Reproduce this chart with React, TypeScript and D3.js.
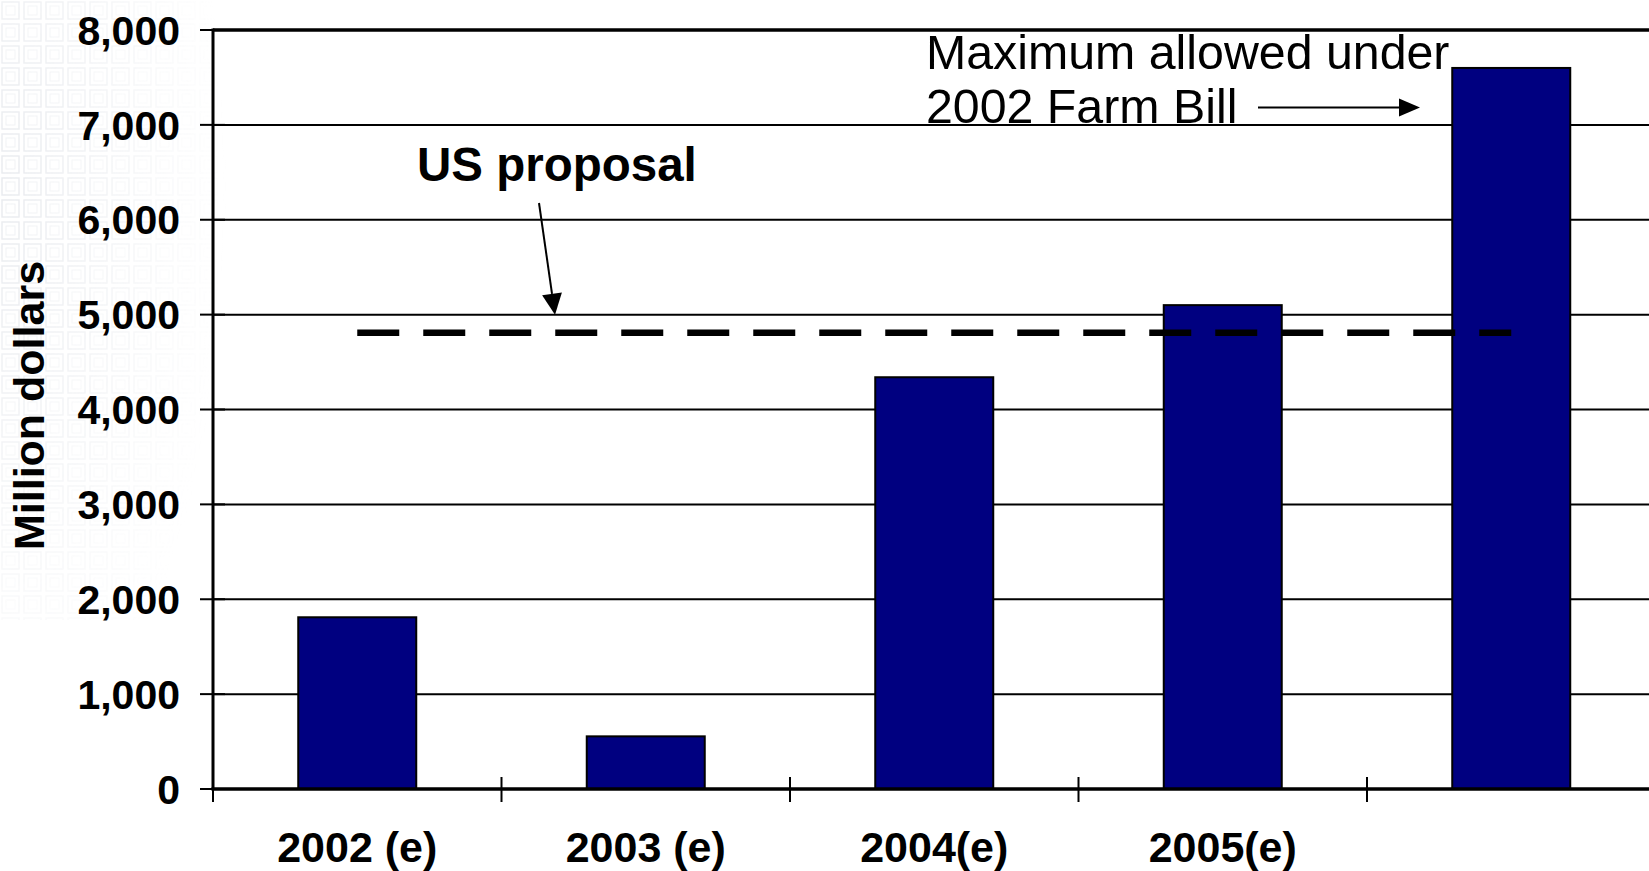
import React from "react";
import * as d3 from "d3";

const categories = ["2002 (e)", "2003 (e)", "2004(e)", "2005(e)", ""];
const values = [1810, 555, 4340, 5100, 7600];
const yTicks = [0, 1000, 2000, 3000, 4000, 5000, 6000, 7000, 8000];
const usProposal = 4810;
const yMax = 8000;
const yTitle = "Million dollars";
const proposalLabel = "US proposal";
const maxLabel = ["Maximum allowed under", "2002 Farm Bill"];

const W = 1649;
const H = 871;
const left = 213;
const top = 30;
const bottom = 789;
const step = 288.5;
const right = left + step * categories.length;
const FONT = "'Liberation Sans', Arial, Helvetica, sans-serif";

export default function App() {
  const x = d3
    .scaleBand<number>()
    .domain(d3.range(categories.length))
    .range([left, right])
    .paddingInner(0.591)
    .paddingOuter(0.2955);
  const y = d3.scaleLinear().domain([0, yMax]).range([bottom, top]);
  const bw = x.bandwidth();
  const st = x.step();
  const bandStarts = d3.range(categories.length + 1).map((i) => left + i * st);
  const center = (i: number) => (x(i) as number) + bw / 2;

  const dashX1 = center(0);
  const dashX2 = center(categories.length - 1);
  const dashY = y(usProposal);

  // US proposal arrow
  const a1 = { x: 539, y: 203 };
  const a2 = { x: 555, y: y(5000) };
  const ang = Math.atan2(a2.y - a1.y, a2.x - a1.x);
  const hl = 21;
  const hw = 10;
  const bx = a2.x - hl * Math.cos(ang);
  const by = a2.y - hl * Math.sin(ang);
  const head1 = [
    [a2.x, a2.y],
    [bx + hw * Math.sin(ang), by - hw * Math.cos(ang)],
    [bx - hw * Math.sin(ang), by + hw * Math.cos(ang)],
  ]
    .map((p) => p.join(","))
    .join(" ");

  // Max allowed arrow
  const m1 = { x: 1258, y: 107.5 };
  const m2 = { x: 1420, y: 107.5 };
  const head2 = `${m2.x},${m2.y} ${m2.x - 21},${m2.y - 9} ${m2.x - 21},${m2.y + 9}`;

  return (
    <svg
      width={W}
      height={H}
      viewBox={`0 0 ${W} ${H}`}
      style={{ position: "absolute", left: 0, top: 0, background: "#ffffff" }}
      fontFamily={FONT}
    >
      <defs>
        <pattern id="sq" width="22" height="22" patternUnits="userSpaceOnUse">
          <rect x="2" y="2" width="17" height="17" fill="none" stroke="#d5d9e0" strokeWidth="1.4" />
          <rect x="6" y="6" width="9" height="9" fill="none" stroke="#e2e5ea" strokeWidth="1" />
        </pattern>
        <radialGradient id="fade" cx="0" cy="0.3" r="0.95" fx="0" fy="0.3">
          <stop offset="0" stopColor="#fff" stopOpacity="1" />
          <stop offset="0.6" stopColor="#fff" stopOpacity="0.4" />
          <stop offset="1" stopColor="#fff" stopOpacity="0" />
        </radialGradient>
        <mask id="fm">
          <rect x="0" y="0" width="240" height="620" fill="url(#fade)" />
        </mask>
      </defs>
      <rect x="0" y="0" width="240" height="620" fill="url(#sq)" mask="url(#fm)" opacity="0.55" />

      {/* gridlines */}
      {yTicks
        .filter((t) => t > 0 && t < yMax)
        .map((t) => (
          <line key={t} x1={left} x2={right} y1={y(t)} y2={y(t)} stroke="#000" strokeWidth={2} />
        ))}
      {/* top border */}
      <line x1={left} x2={right} y1={y(yMax)} y2={y(yMax)} stroke="#000" strokeWidth={3.5} />

      {/* bars */}
      {values.map((v, i) => (
        <rect
          key={i}
          x={x(i)}
          y={y(v)}
          width={bw}
          height={y(0) - y(v)}
          fill="#000080"
          stroke="#000"
          strokeWidth={2}
        />
      ))}

      {/* US proposal dashed line */}
      <line
        x1={dashX1}
        x2={dashX2}
        y1={dashY}
        y2={dashY}
        stroke="#000"
        strokeWidth={6.5}
        strokeDasharray="42 24"
      />

      {/* axes */}
      <line x1={left} x2={left} y1={top - 1.5} y2={bottom} stroke="#000" strokeWidth={3} />
      <line x1={left - 1.5} x2={right} y1={bottom} y2={bottom} stroke="#000" strokeWidth={3.5} />
      {yTicks.map((t) => (
        <line key={t} x1={left - 13} x2={left + 12} y1={y(t)} y2={y(t)} stroke="#000" strokeWidth={2} />
      ))}
      {bandStarts.map((bx0, i) => (
        <line key={i} x1={bx0} x2={bx0} y1={bottom - 12} y2={bottom + 13} stroke="#000" strokeWidth={2} />
      ))}

      {/* y tick labels */}
      {yTicks.map((t) => (
        <text
          key={t}
          x={180}
          y={y(t)}
          dy="0.358em"
          textAnchor="end"
          fontSize={41}
          fontWeight="bold"
          fill="#000"
        >
          {d3.format(",")(t)}
        </text>
      ))}

      {/* x labels */}
      {categories.map((c, i) => (
        <text
          key={i}
          x={center(i)}
          y={862}
          textAnchor="middle"
          fontSize={43}
          fontWeight="bold"
          fill="#000"
        >
          {c}
        </text>
      ))}

      {/* y title */}
      <text
        transform={`translate(44, ${(top + bottom) / 2 - 4}) rotate(-90)`}
        textAnchor="middle"
        fontSize={43}
        fontWeight="bold"
        fill="#000"
      >
        {yTitle}
      </text>

      {/* US proposal annotation */}
      <text x={417} y={181} fontSize={47.5} fontWeight="bold" fill="#000">
        {proposalLabel}
      </text>
      <line x1={a1.x} y1={a1.y} x2={bx} y2={by} stroke="#000" strokeWidth={2} />
      <polygon points={head1} fill="#000" />

      {/* Max allowed annotation */}
      <text x={926} y={69} fontSize={48.3} fill="#000">
        {maxLabel[0]}
      </text>
      <text x={926} y={123} fontSize={48.3} fill="#000">
        {maxLabel[1]}
      </text>
      <line x1={m1.x} y1={m1.y} x2={m2.x - 20} y2={m2.y} stroke="#000" strokeWidth={2} />
      <polygon points={head2} fill="#000" />
    </svg>
  );
}
